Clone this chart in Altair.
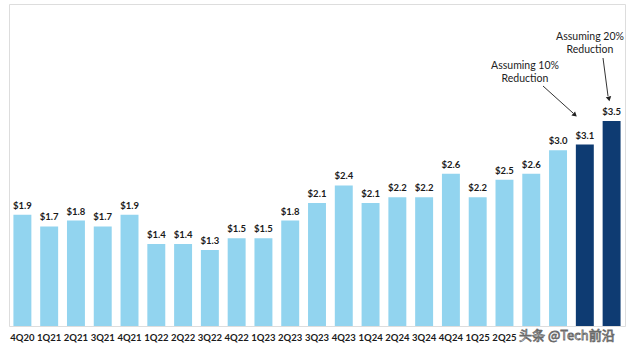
import altair as alt
import pandas as pd

quarters = ["4Q20", "1Q21", "2Q21", "3Q21", "4Q21", "1Q22", "2Q22", "3Q22", "4Q22",
            "1Q23", "2Q23", "3Q23", "4Q23", "1Q24", "2Q24", "3Q24", "4Q24", "1Q25",
            "2Q25", "3Q25", "4Q25", "1Q26", "2Q26"]
values = [1.9, 1.7, 1.8, 1.7, 1.9, 1.4, 1.4, 1.3, 1.5, 1.5, 1.8, 2.1, 2.4, 2.1,
          2.2, 2.2, 2.6, 2.2, 2.5, 2.6, 3.0, 3.1, 3.5]
kind = ["actual"] * 21 + ["assumed"] * 2
hidden_labels = ["3Q25", "4Q25", "1Q26", "2Q26"]

df = pd.DataFrame({"q": quarters, "v": values, "kind": kind})
df["label"] = df["v"].map(lambda x: f"${x:.1f}")

FONT = "Lato"
hidden_expr = "indexof(" + str(hidden_labels).replace("'", '"') + ", datum.label) >= 0 ? '' : datum.label"

x = alt.X("q:N", sort=quarters, title=None,
          scale=alt.Scale(paddingInner=0.33, paddingOuter=0.165),
          axis=alt.Axis(domain=False, ticks=False, labelAngle=0, labelPadding=6,
                        labelFont=FONT, labelFontWeight="bold", labelFontSize=9.5,
                        labelColor="#1a1a1a", labelExpr=hidden_expr))
y = alt.Y("v:Q", title=None, scale=alt.Scale(domain=[0, 5.2]), axis=None)

bars = alt.Chart(df).mark_bar().encode(
    x=x, y=y,
    color=alt.Color("kind:N", scale=alt.Scale(domain=["actual", "assumed"],
                                              range=["#92d4ef", "#0e3b72"]), legend=None),
)
labels = alt.Chart(df).mark_text(baseline="bottom", dy=-4, font=FONT, fontWeight="bold",
                                 fontSize=9.5, color="#1a1a1a").encode(
    x=alt.X("q:N", sort=quarters), y="v:Q", text="label:N")

ann_text = [["Assuming 10%", "Reduction"], ["Assuming 20%", "Reduction"]]
ann_df = pd.DataFrame({"t": ["a", "b"]})
t1 = alt.Chart(ann_df.iloc[[0]]).mark_text(font=FONT, fontSize=10.5, color="#222",
                                             lineHeight=13, baseline="top", text=ann_text[0]).encode(
    x=alt.value(516), y=alt.value(57))
t2 = alt.Chart(ann_df.iloc[[1]]).mark_text(font=FONT, fontSize=10.5, color="#222",
                                             lineHeight=13, baseline="top", text=ann_text[1]).encode(
    x=alt.value(581), y=alt.value(28))
a1 = alt.Chart(ann_df.iloc[[0]]).mark_rule(color="#333", strokeWidth=1).encode(
    x=alt.value(534), y=alt.value(82), x2=alt.value(564), y2=alt.value(109))
a2 = alt.Chart(ann_df.iloc[[1]]).mark_rule(color="#333", strokeWidth=1).encode(
    x=alt.value(594), y=alt.value(54), x2=alt.value(599), y2=alt.value(92))
h1 = alt.Chart(ann_df.iloc[[0]]).mark_point(shape="triangle-up", filled=True, color="#222",
                                            size=30, angle=132, opacity=1).encode(
    x=alt.value(566), y=alt.value(111))
h2 = alt.Chart(ann_df.iloc[[1]]).mark_point(shape="triangle-up", filled=True, color="#222",
                                            size=30, angle=168, opacity=1).encode(
    x=alt.value(600), y=alt.value(95))
wm = alt.Chart(ann_df.iloc[[0]]).mark_text(text="头条 @Tech前沿", font="Noto Sans CJK SC",
                                           fontSize=13, fill="#f4f4f4", stroke="#6a6a6a",
                                           strokeWidth=0.8, align="left", baseline="middle").encode(
    x=alt.value(510), y=alt.value(332))

chart = alt.layer(bars, labels, t1, t2, a1, a2, h1, h2, wm).properties(
    width=640, height=354,
    padding={"left": 9, "top": 4, "right": 15, "bottom": 12},
    autosize=alt.AutoSizeParams(type="fit", contains="padding"),
).configure_view(strokeWidth=0, stroke="transparent").configure(background="white")

chart.save("out.html", embed_options={"renderer": "svg", "actions": False})
